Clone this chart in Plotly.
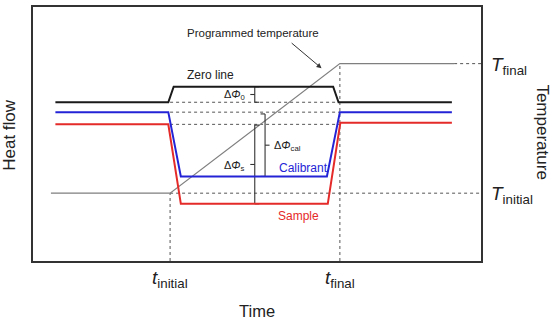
import plotly.graph_objects as go

# ---- data (arbitrary units: time 0-100, heat flow / temperature 0-100) ----
time_zero = [5, 30.2, 31.4, 67.0, 68.2, 93.5]
flow_zero = [62.5, 62.5, 68.6, 68.6, 62.5, 62.5]

time_cal = [5, 30.2, 33.0, 65.6, 68.5, 93.5]
flow_cal = [58.6, 58.6, 33.3, 33.3, 58.6, 58.6]

time_sample = [5, 30.2, 33.0, 65.8, 68.6, 93.5]
flow_sample = [53.8, 53.8, 22.5, 22.5, 54.4, 54.4]

time_temp = [4, 30.6, 68.5, 94]
temp_prog = [26.7, 26.7, 77.7, 77.7]

t_initial, t_final = 30.6, 68.5
T_initial, T_final = 26.7, 77.7

# measurement brackets: (x, top, bottom)
dphi0 = (49.5, 68.6, 62.5)
dphical = (51.8, 57.9, 33.3)
dphis = (49.5, 53.5, 22.5)

FONT = "Liberation Sans, Arial, sans-serif"
TXT = "#222222"
GRID = "#555555"

fig = go.Figure()

# dashed reference lines
dx, dy = [], []
for lvl in (flow_zero[0], flow_cal[0], flow_sample[0]):
    dx += [t_initial, t_final, None]
    dy += [lvl, lvl, None]
dx += [t_initial, 100, None, time_temp[-1], 100, None]
dy += [T_initial, T_initial, None, T_final, T_final, None]
dx += [t_initial, t_initial, None, t_final, t_final, None]
dy += [0, T_initial, None, 0, T_final, None]
fig.add_trace(go.Scatter(x=dx, y=dy, mode="lines",
                         line=dict(color=GRID, width=1, dash="3px,3px"),
                         hoverinfo="skip", showlegend=False))

# programmed temperature
fig.add_trace(go.Scatter(x=time_temp, y=temp_prog, mode="lines",
                         line=dict(color="#7f7f7f", width=1.2), showlegend=False))

# brackets
cap = 1.0
bx, by = [], []
def bracket(b, capdir, tickdir):
    x, top, bot = b
    mid = (top + bot) / 2
    bx.extend([x, x, None, x, x + capdir * cap, None, x, x + capdir * cap, None,
               x, x + tickdir * cap, None])
    by.extend([top, bot, None, top, top, None, bot, bot, None, mid, mid, None])
bracket(dphi0, 1, -1)
bracket(dphical, -1, 1)
bracket(dphis, 1, -1)
fig.add_trace(go.Scatter(x=bx, y=by, mode="lines",
                         line=dict(color="#333333", width=1.1), showlegend=False))

# heat flow curves
fig.add_trace(go.Scatter(x=time_sample, y=flow_sample, mode="lines",
                         line=dict(color="#e52a2a", width=2), showlegend=False))
fig.add_trace(go.Scatter(x=time_cal, y=flow_cal, mode="lines",
                         line=dict(color="#2424d6", width=2), showlegend=False))
fig.add_trace(go.Scatter(x=time_zero, y=flow_zero, mode="lines",
                         line=dict(color="#1a1a1a", width=2), showlegend=False))

ann = []
def add(text, x, y, size=12, color=TXT, xref="x", yref="y", **kw):
    d = dict(text=text, x=x, y=y, xref=xref, yref=yref, showarrow=False,
             xanchor="center", yanchor="middle",
             font=dict(family=FONT, size=size, color=color))
    d.update(kw)
    ann.append(d)

add("Programmed temperature", 49.0, 89.6, size=11.5)
add("Zero line", 39.7, 73.3, size=12)
add("Calibrant", 54.5, 36.8, size=12, color="#2424d6", xanchor="left")
add("Sample", 59.2, 17.6, size=12, color="#e52a2a")
add("Δ<i>Φ</i><sub>0</sub>", 47.7, 65.5, size=11, xanchor="right")
add("Δ<i>Φ</i><sub>s</sub>", 47.7, 37.5, size=11, xanchor="right")
add("Δ<i>Φ</i><sub>cal</sub>", 53.3, 45.3, size=11, xanchor="left")

# arrow to the temperature line
ann.append(dict(x=64.4, y=75.9, ax=57.4, ay=86.3, xref="x", yref="y",
                axref="x", ayref="y", showarrow=True, arrowhead=2,
                arrowsize=1, arrowwidth=1, arrowcolor="#333333", text=""))

# time tick labels
add("<i>t</i><sub>initial</sub>", t_initial, 0, size=19, yref="paper", yshift=-18)
add("<i>t</i><sub>final</sub>", t_final, 0, size=19, yref="paper", yshift=-18)
# temperature labels
add("<i>T</i><sub>final</sub>", 1, T_final, size=19, xref="paper",
    xanchor="left", xshift=8, yshift=-2)
add("<i>T</i><sub>initial</sub>", 1, T_initial, size=19, xref="paper",
    xanchor="left", xshift=8, yshift=-2)

# axis titles
add("Heat flow", -0.0513, 0.497, size=17, xref="paper", yref="paper", textangle=-90)
add("Temperature", 1.138, 0.507, size=17, xref="paper", yref="paper", textangle=90)
add("Time", 0.5, -0.198, size=16.5, xref="paper", yref="paper")

fig.update_layout(
    width=556, height=320, autosize=False,
    margin=dict(l=33, r=75, t=5, b=59),
    paper_bgcolor="white", plot_bgcolor="white",
    annotations=ann,
    xaxis=dict(range=[0, 100], showgrid=False, zeroline=False, showticklabels=False,
               ticks="", showline=True, mirror=True, linecolor="#333333", linewidth=2),
    yaxis=dict(range=[0, 100], showgrid=False, zeroline=False, showticklabels=False,
               ticks="", showline=True, mirror=True, linecolor="#333333", linewidth=2),
)

fig.write_html("out.html")
